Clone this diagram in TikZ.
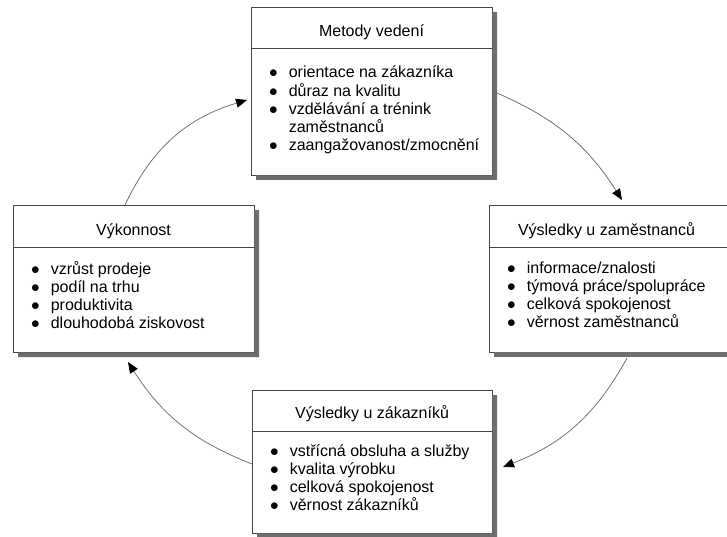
\documentclass[tikz,border=0pt]{standalone}
\usepackage{fontspec}
\setmainfont{Liberation Sans}
\usetikzlibrary{arrows.meta}

\definecolor{stinbarva}{RGB}{110,110,110}
\definecolor{carabarva}{RGB}{70,70,70}
\definecolor{sipkabarva}{RGB}{115,115,115}
\newcommand{\seznam}[1]{\begin{tabular}[t]{@{}c@{\hspace{11pt}}l@{}}#1\end{tabular}}
\newcommand{\tecka}{$\bullet$}

\begin{document}
\begin{tikzpicture}[x=1pt, y=1pt, font=\fontsize{16}{18}\selectfont,
    panel/.style={draw=carabarva, fill=white, line width=0.8pt, outer sep=0pt},
    stin/.style={fill=stinbarva},
    sep/.style={draw=carabarva, line width=0.8pt},
    head/.style={anchor=base, inner sep=0pt},
    items/.style={anchor=base west, inner sep=0pt},
    arw/.style={draw=sipkabarva, line width=0.8pt,
      -{Triangle[length=11pt, width=9pt, color=black]}}]
  \useasboundingbox (0,0) rectangle (727,-537);

  % boxes
  \node[panel, minimum width=241pt, minimum height=168pt] (metody) at (371.5,-91) {};
  \node[panel, minimum width=241pt, minimum height=147pt] (vykon) at (133.5,-278.5) {};
  \node[panel, minimum width=241pt, minimum height=147pt] (zamest) at (609.5,-278.5) {};
  \node[panel, minimum width=240pt, minimum height=143pt] (zakaz) at (372,-461.5) {};

  % shadows
  \fill[stin] (256,-175.4) -- (492.4,-175.4) -- (492.4,-12) -- (497,-12) -- (497,-180) -- (256,-180) -- cycle;
  \fill[stin] (18,-352.4) -- (254.4,-352.4) -- (254.4,-210) -- (259,-210) -- (259,-357) -- (18,-357) -- cycle;
  \fill[stin] (494,-352.4) -- (727,-352.4) -- (727,-357) -- (494,-357) -- cycle;
  \fill[stin] (257,-533.4) -- (492.4,-533.4) -- (492.4,-395) -- (497,-395) -- (497,-537) -- (257,-537) -- cycle;

  % titles and split lines
  \node[head] (metodyT) at ([yshift=-30pt]metody.north) {Metody vedení};
  \draw[sep] ([yshift=-41pt]metody.north west) -- ([yshift=-41pt]metody.north east);
  \node[head] (vykonT) at ([yshift=-31pt]vykon.north) {Výkonnost};
  \draw[sep] ([yshift=-42pt]vykon.north west) -- ([yshift=-42pt]vykon.north east);
  \node[head] (zamestT) at ([xshift=-3pt,yshift=-31pt]zamest.north) {Výsledky u zaměstnanců};
  \draw[sep] ([yshift=-42pt]zamest.north west) -- ([yshift=-42pt]zamest.north east);
  \node[head] (zakazT) at ([yshift=-28pt]zakaz.north) {Výsledky u zákazníků};
  \draw[sep] ([yshift=-41pt]zakaz.north west) -- ([yshift=-41pt]zakaz.north east);

  % lists
  \node[items] (metodyL) at ([xshift=18pt,yshift=-71pt]metody.north west) {\seznam{
    \tecka & orientace na zákazníka\\
    \tecka & důraz na kvalitu\\
    \tecka & vzdělávání a trénink\\
    & zaměstnanců\\
    \tecka & zaangažovanost/zmocnění}};
  \node[items] (vykonL) at ([xshift=18pt,yshift=-69pt]vykon.north west) {\seznam{
    \tecka & vzrůst prodeje\\
    \tecka & podíl na trhu\\
    \tecka & produktivita\\
    \tecka & dlouhodobá ziskovost}};
  \node[items] (zamestL) at ([xshift=18pt,yshift=-68pt]zamest.north west) {\seznam{
    \tecka & informace/znalosti\\
    \tecka & týmová práce/spolupráce\\
    \tecka & celková spokojenost\\
    \tecka & věrnost zaměstnanců}};
  \node[items] (zakazL) at ([xshift=18pt,yshift=-66pt]zakaz.north west) {\seznam{
    \tecka & vstřícná obsluha a služby\\
    \tecka & kvalita výrobku\\
    \tecka & celková spokojenost\\
    \tecka & věrnost zákazníků}};

  % cycle
  \draw[arw] ([xshift=-8.5pt]vykon.north) to[bend left=24] ([xshift=-4pt,yshift=-9pt]metody.west);
  \draw[arw] ([xshift=5pt,yshift=-2pt]metody.east) to[bend left=17] ([xshift=12.5pt,yshift=5pt]zamest.north);
  \draw[arw] ([xshift=17.5pt,yshift=-6pt]zamest.south) to[bend left=20] ([xshift=11pt,yshift=-5.5pt]zakaz.east);
  \draw[arw] ([yshift=-2.5pt]zakaz.west) to[bend left=18] ([xshift=-5.5pt,yshift=-10pt]vykon.south);
\end{tikzpicture}
\end{document}
